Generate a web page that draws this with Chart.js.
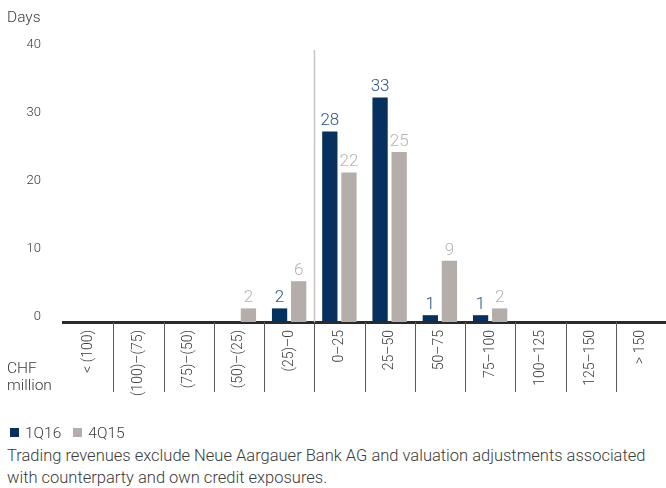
<!DOCTYPE html>
<html>
<head>
<meta charset="utf-8">
<script src="https://cdn.jsdelivr.net/npm/chart.js@4.4.1/dist/chart.umd.min.js"></script>
<style>
  body { margin: 0; background: #fff; font-family: Roboto, "Liberation Sans", sans-serif; color: #3a3a3a; }
  #wrap { position: relative; width: 666px; height: 488px; }
  #chart { position: absolute; left: 0; top: 0; }
  .lbl { position: absolute; font-size: 15.5px; color: #3a3a3a; font-weight: 300; }
  #legend { position: absolute; left: 10px; top: 424px; font-size: 15.5px; font-weight: 300; }
  #legend span.item { margin-right: 12px; }
  #legend i { display: inline-block; width: 9px; height: 9px; margin-right: 6px; vertical-align: 1px; }
  #note { position: absolute; left: 7px; top: 445px; width: 658px; font-size: 16.5px; line-height: 22px; font-weight: 300; }
</style>
</head>
<body>
<div id="wrap">
  <canvas id="chart" width="666" height="410"></canvas>
  <div class="lbl" style="left:7px; top:8px;">Days</div>
  <div class="lbl" style="left:7px; top:360px; line-height:17px;">CHF<br>million</div>
  <div id="legend"></div>
  <div id="note">Trading revenues exclude Neue Aargauer Bank AG and valuation adjustments associated with counterparty and own credit exposures.</div>
</div>
<script>
// Trading revenue distribution (days per CHF million bucket)
const categories = ['< (100)', '(100)–(75)', '(75)–(50)', '(50)–(25)', '(25)–0', '0–25', '25–50', '50–75', '75–100', '100–125', '125–150', '> 150'];
const q116 = [0, 0, 0, 0, 2, 28, 33, 1, 1, 0, 0, 0];
const q415 = [0, 0, 0, 2, 6, 22, 25, 9, 2, 0, 0, 0];
const yTicks = [0, 10, 20, 30, 40];

const DARK = '#06305e';
const GREY = '#b4ada9';
const labelColors = ['#2c5587', '#b8b2ad'];

// value labels above the bars
const valueLabels = {
    id: 'valueLabels',
    afterDatasetsDraw(chart) {
        const ctx = chart.ctx;
        ctx.save();
        ctx.font = '300 17px Roboto, "Liberation Sans", sans-serif';
        ctx.textAlign = 'center';
        ctx.textBaseline = 'bottom';
        chart.data.datasets.forEach((ds, i) => {
            const meta = chart.getDatasetMeta(i);
            ctx.fillStyle = labelColors[i];
            meta.data.forEach((bar, j) => {
                if (ds.data[j] > 0) ctx.fillText(ds.data[j], bar.x, bar.y - 2);
            });
        });
        ctx.restore();
    }
};

// zero divider line and category separators under the axis
const dividers = {
    id: 'dividers',
    afterDraw(chart) {
        const ctx = chart.ctx;
        const x = chart.scales.x;
        const area = chart.chartArea;
        ctx.save();
        for (let i = 0; i < categories.length - 1; i++) {
            const px = Math.round((x.getPixelForTick(i) + x.getPixelForTick(i + 1)) / 2) + 0.5;
            ctx.strokeStyle = '#5a5a5a';
            ctx.lineWidth = 1;
            ctx.beginPath();
            ctx.moveTo(px, area.bottom);
            ctx.lineTo(px, area.bottom + 70);
            ctx.stroke();
            if (categories[i] === '(25)–0') {
                ctx.strokeStyle = '#cbc6c3';
                ctx.lineWidth = 1.5;
                ctx.beginPath();
                ctx.moveTo(px, area.top);
                ctx.lineTo(px, area.bottom);
                ctx.stroke();
            }
        }
        ctx.restore();
    }
};

const chart = new Chart(document.getElementById('chart'), {
    type: 'bar',
    data: {
        labels: categories,
        datasets: [
            { label: '1Q16', data: q116, backgroundColor: DARK },
            { label: '4Q15', data: q415, backgroundColor: GREY }
        ]
    },
    options: {
        responsive: false,
        animation: false,
        devicePixelRatio: 1,
        layout: { padding: { top: 50, right: 0, bottom: 0, left: 0 } },
        datasets: { bar: { categoryPercentage: 0.76, barPercentage: 0.8 } },
        plugins: { legend: { display: false }, tooltip: { enabled: false } },
        scales: {
            x: {
                grid: { display: false, drawTicks: false },
                border: { display: true, color: '#2b2b2b', width: 3 },
                ticks: {
                    autoSkip: false,
                    minRotation: 90,
                    maxRotation: 90,
                    padding: 8,
                    color: '#3a3a3a',
                    font: { family: 'Roboto', size: 14, weight: '300' }
                },
                afterFit(scale) { scale.height = 88; }
            },
            y: {
                min: 0,
                max: 40,
                afterBuildTicks(scale) { scale.ticks = yTicks.map(v => ({ value: v })); },
                grid: { display: false, drawTicks: false },
                border: { display: false },
                ticks: {
                    padding: 22,
                    labelOffset: -5,
                    color: '#3a3a3a',
                    font: { family: 'Roboto', size: 13, weight: '300' }
                },
                afterFit(scale) { scale.width = 63; }
            }
        }
    },
    plugins: [valueLabels, dividers]
});

document.getElementById('legend').innerHTML = chart.data.datasets
    .map(ds => '<span class="item"><i style="background:' + ds.backgroundColor + '"></i>' + ds.label + '</span>')
    .join('');
</script>
</body>
</html>
